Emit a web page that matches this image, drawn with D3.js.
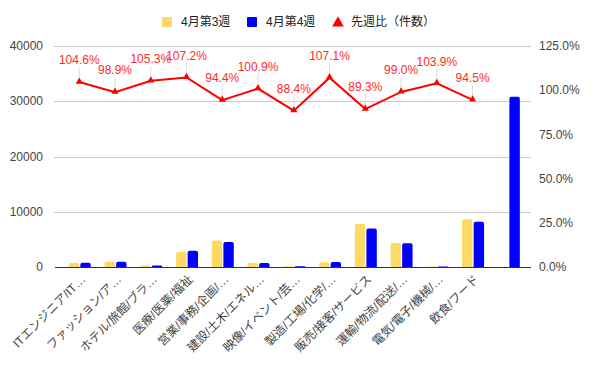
<!DOCTYPE html>
<html><head><meta charset="utf-8">
<script src="https://cdn.jsdelivr.net/npm/d3@7"></script>
<style>body{margin:0;background:#fff}svg{display:block}text{font-family:"Liberation Sans",Arial,"Noto Sans CJK JP",sans-serif}</style>
</head><body><svg id="c" width="597" height="365"></svg>
<script>
const categories = ["ITエンジニア/IT…","ファッション/ア…","ホテル/旅館/ブラ…","医療/医薬/福祉","営業/事務/企画/…","建設/土木/エネル…","映像/イベント/芸…","製造/工場/化学/…","販売/接客/サービス","運輸/物流/配送/…","電気/電子/機械/…","飲食/フード",""];
const week3 = [745,960,250,2750,4790,720,150,850,7780,4330,100,8650,null];
const week4 = [780,950,263,2950,4520,726,133,910,6950,4290,104,8175,30800];
const ratio = [1.046,0.989,1.053,1.072,0.944,1.009,0.884,1.071,0.893,0.990,1.039,0.945,null];
const ratioLabels = ["104.6%","98.9%","105.3%","107.2%","94.4%","100.9%","88.4%","107.1%","89.3%","99.0%","103.9%","94.5%",null];
const leftTicks = [0,10000,20000,30000,40000];
const rightTicks = [0,0.25,0.5,0.75,1.0,1.25];
const seriesNames = ["4月第3週","4月第4週","先週比（件数）"];
const colors = ["#ffd966","#0000ff","#ff0000"];

(function(){
const svg = d3.select("#c");
const pTop = 46, pBottom = 267, pLeft = 54, pRight = 531;
const x = d3.scaleBand().domain(d3.range(categories.length)).range([61.4, 526.2]);
const yL = d3.scaleLinear().domain([0,40000]).range([pBottom, pTop]);
const yR = d3.scaleLinear().domain([0,1.25]).range([pBottom, pTop]);
const cx = i => x(i) + x.bandwidth()/2;
const x1 = d3.scaleBand().domain([0,1]).range([-10.5, 11.5]).paddingInner(0.1);

svg.append("g").selectAll("line").data(leftTicks.filter(d=>d>0)).join("line")
  .attr("x1", pLeft).attr("x2", pRight).attr("y1", d=>Math.round(yL(d))+0.5).attr("y2", d=>Math.round(yL(d))+0.5)
  .attr("stroke","#cccccc").attr("stroke-width",1);

svg.append("g").selectAll("text").data(leftTicks).join("text")
  .attr("x", 43).attr("y", d=>yL(d)).attr("dy","0.35em").attr("text-anchor","end")
  .attr("font-size",12).attr("fill","#444").text(d=>d);
svg.append("g").selectAll("text").data(rightTicks).join("text")
  .attr("x", 539).attr("y", d=>yR(d)).attr("dy","0.35em").attr("text-anchor","start")
  .attr("font-size",12).attr("fill","#444").text(d=>d3.format(".1%")(d));

function barPath(x0, y0, w, h, r) {
  if (h <= 0) return "";
  r = Math.min(r, h, w/2);
  return `M${x0},${y0+h}V${y0+r}Q${x0},${y0} ${x0+r},${y0}H${x0+w-r}Q${x0+w},${y0} ${x0+w},${y0+r}V${y0+h}Z`;
}
[week3, week4].forEach((vals, s) => {
  svg.append("g").selectAll("path").data(vals.map((v,i)=>({v,i})).filter(d=>d.v!=null)).join("path")
    .attr("fill", colors[s])
    .attr("d", d => {
      const x0 = cx(d.i) + x1(s);
      const y0 = yL(d.v);
      return barPath(x0, y0, x1.bandwidth(), pBottom - y0, 2);
    });
});

svg.append("line").attr("x1", pLeft+1).attr("x2", pRight).attr("y1", pBottom+0.5).attr("y2", pBottom+0.5)
  .attr("stroke","#333").attr("stroke-width",1);

const pts = ratio.map((v,i)=>({v,i})).filter(d=>d.v!=null);
svg.append("g").selectAll("line").data(pts).join("line")
  .attr("x1", d=>cx(d.i)).attr("x2", d=>cx(d.i))
  .attr("y1", d=>yR(d.v)-15).attr("y2", d=>yR(d.v))
  .attr("stroke","#dddddd").attr("stroke-width",1);
svg.append("path").datum(pts)
  .attr("fill","none").attr("stroke",colors[2]).attr("stroke-width",2)
  .attr("d", d3.line().x(d=>cx(d.i)).y(d=>yR(d.v)));
const tri = d3.symbol().type(d3.symbolTriangle).size(22);
svg.append("g").selectAll("path").data(pts).join("path")
  .attr("transform", d=>`translate(${cx(d.i)},${yR(d.v)-0.5})`).attr("d", tri()).attr("fill", colors[2]);
svg.append("g").selectAll("text").data(pts).join("text")
  .attr("x", d=>cx(d.i)).attr("y", d=>yR(d.v)-22).attr("dy","0.35em").attr("text-anchor","middle")
  .attr("font-size",12).attr("fill","#ff2a2a").text(d=>ratioLabels[d.i]);

svg.append("g").selectAll("text").data(categories.map((c,i)=>({c,i}))).join("text")
  .attr("transform", d=>`translate(${cx(d.i)+4},${pBottom+10}) rotate(-45)`)
  .attr("text-anchor","end").attr("dy","0.35em")
  .attr("font-size",12).attr("fill","#444").text(d=>d.c);

const lg = svg.append("g");
const legendX = [162, 247, 333];
const textX = [181, 266, 351];
[0,1].forEach(s=>{
  lg.append("rect").attr("x", legendX[s]).attr("y", 17).attr("width",10).attr("height",10).attr("fill",colors[s]).attr("rx",1);
});
lg.append("path").attr("transform","translate(338,23)").attr("d", d3.symbol().type(d3.symbolTriangle).size(60)()).attr("fill",colors[2]);
seriesNames.forEach((n,s)=>{
  lg.append("text").attr("x", textX[s]).attr("y", 22).attr("dy","0.35em").attr("font-size",12).attr("fill","#222").text(n);
});
})();
</script></body></html>
